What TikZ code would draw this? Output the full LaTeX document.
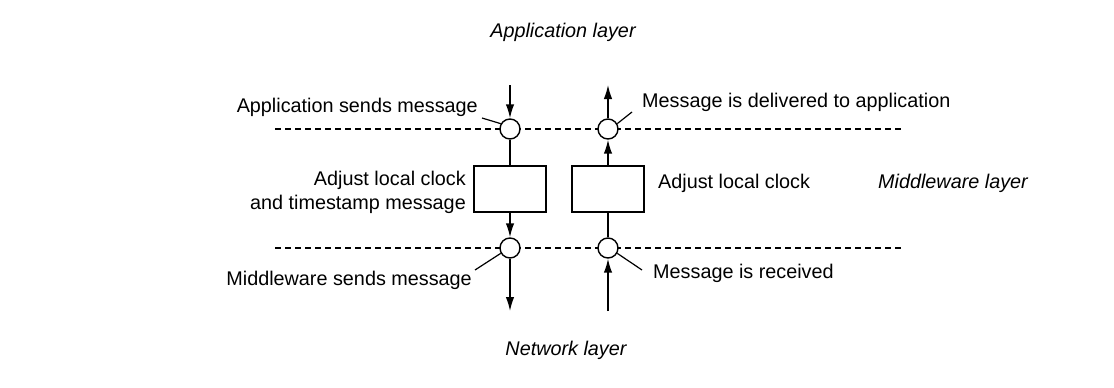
\documentclass[tikz,border=0pt]{standalone}
\usepackage{fontspec}
\setmainfont{Liberation Sans}
\usetikzlibrary{arrows.meta}
\begin{document}
\begin{tikzpicture}[x=1pt,y=-1pt,
  lbl/.style={inner sep=0pt, font=\fontsize{19.8}{24}\selectfont},
  layer/.style={inner sep=0pt, font=\fontsize{19.8}{24}\selectfont\itshape},
  circ/.style={circle, draw, fill=white, minimum size=20pt, inner sep=0pt, line width=1.4pt},
  procbox/.style={draw, fill=white, minimum width=72pt, minimum height=46pt, inner sep=0pt, line width=1.4pt},
  flow/.style={line width=1.5pt, -{Latex[length=14pt,width=8.5pt]}},
  plain/.style={line width=1.5pt},
  leader/.style={line width=1.2pt},
  layerline/.style={line width=1.1pt, dash pattern=on 6pt off 4pt}]
\useasboundingbox (0,0) rectangle (1114,388);

% layer boundaries
\coordinate (tl) at (275,129);
\coordinate (tr) at (902,129);
\coordinate (bl) at (275,248);
\coordinate (br) at (902,248);
\draw[layerline] (tl) -- (tr);
\draw[layerline] (bl) -- (br);

% layer names
\node[layer] (app) at (563,32) {Application layer};
\node[layer] (mid) at (953,183) {Middleware layer};
\node[layer] (net) at (566,350) {Network layer};

% sending side
\node[circ] (sTop) at (510,129) {};
\node[procbox] (sBox) at (510,189) {};
\node[circ] (sBot) at (510,248) {};
\coordinate (sIn) at (510,85);
\coordinate (sOut) at (510,311);
\draw[flow] (sIn) -- (sTop);
\draw[plain] (sTop) -- (sBox);
\draw[flow] (sBox) -- (sBot);
\draw[flow] (sBot) -- (sOut);

% receiving side
\node[circ] (rTop) at (608,129) {};
\node[procbox] (rBox) at (608,189) {};
\node[circ] (rBot) at (608,248) {};
\coordinate (rIn) at (608,311);
\coordinate (rOut) at (608,85);
\draw[flow] (rIn) -- (rBot);
\draw[plain] (rBot) -- (rBox);
\draw[flow] (rBox) -- (rTop);
\draw[flow] (rTop) -- (rOut);

% labels
\node[lbl, anchor=east] (lAppSend) at (478,107) {Application sends message};
\node[lbl, anchor=east, align=right] (lAdjS) at (466,192) {Adjust local clock\\and timestamp message};
\node[lbl, anchor=east] (lMidSend) at (472,280) {Middleware sends message};
\node[lbl, anchor=west] (lDeliv) at (642,102) {Message is delivered to application};
\node[lbl, anchor=west] (lAdjR) at (658,183) {Adjust local clock};
\node[lbl, anchor=west] (lRecv) at (653,273) {Message is received};

% leaders
\coordinate (aAppSend) at (482,118);
\coordinate (aMidSend) at (475,270);
\coordinate (aDeliv) at (632,112);
\coordinate (aRecv) at (642,270);
\draw[leader] (aAppSend) -- (sTop.150);
\draw[leader] (aMidSend) -- (sBot.210);
\draw[leader] (aDeliv) -- (rTop.30);
\draw[leader] (rBot.330) -- (aRecv);
\end{tikzpicture}
\end{document}
